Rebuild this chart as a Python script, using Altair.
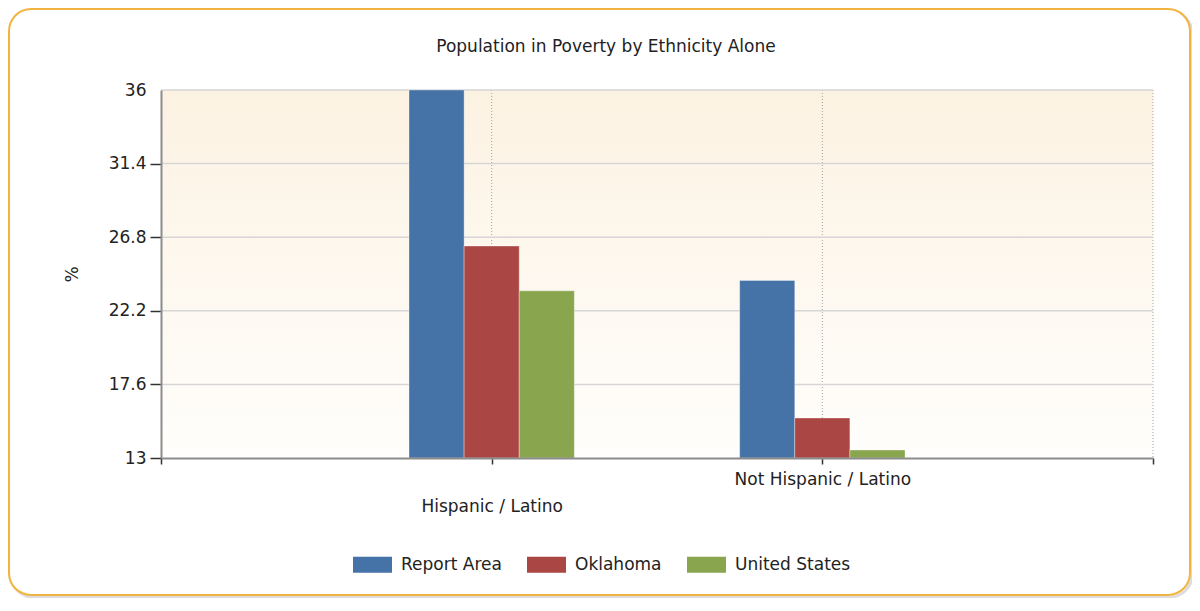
import altair as alt
import pandas as pd

# ---- data ----
categories = ["Hispanic / Latino", "Not Hispanic / Latino"]
series = ["Report Area", "Oklahoma", "United States"]
report_area = [36.0, 24.1]
oklahoma = [26.25, 15.5]
united_states = [23.45, 13.5]
colors = ["#4572a7", "#aa4643", "#89a54e"]
y_ticks = [13, 17.6, 22.2, 26.8, 31.4, 36]
x_grid = [1, 2, 3]

FONT = "DejaVu Sans"
W, H = 992, 368

rows = []
for si, (name, vals) in enumerate(zip(series, [report_area, oklahoma, united_states])):
    for ci, (cat, v) in enumerate(zip(categories, vals)):
        rows.append({"category": cat, "cat_index": ci + 1, "series": name,
                     "series_index": si, "value": v})
df = pd.DataFrame(rows)

xscale = alt.Scale(domain=[0, 3], nice=False, zero=False)
yscale = alt.Scale(domain=[13, 36], nice=False, zero=False)

label_expr = "datum.value == 1 ? '%s' : datum.value == 2 ? '%s' : ''" % (categories[0], categories[1])

x_axis = alt.Axis(
    values=[0, 1, 2, 3], labelExpr=label_expr, grid=False, title=None,
    tickSize=6, tickColor="#333333", tickWidth=1.5,
    domainColor="#8c8c8c", domainWidth=2,
    labelFont=FONT, labelFontSize=17, labelColor="#222222",
    labelPadding={"condition": {"test": "datum.value == 1", "value": 34}, "value": 7},
    labelOverlap=False, labelFlush=False, zindex=1,
)
y_axis = alt.Axis(
    values=y_ticks, format=".1~f", grid=False, title="%",
    tickSize=11, tickWidth=1.5,
    tickColor={"condition": {"test": "datum.value == 36", "value": "transparent"}, "value": "#333333"},
    domainColor="#8c8c8c", domainWidth=2,
    labelFont=FONT, labelFontSize=17, labelColor="#222222", labelPadding=4,
    titleFont=FONT, titleFontSize=17, titleFontWeight="normal", titleColor="#222222",
    titleX=-89, titleY=184, titleAlign="center", titleBaseline="middle",
    zindex=1,
)

one = pd.DataFrame({"k": [0]})

shadow = alt.Chart(one).mark_rect(
    fill="transparent", stroke="#cfcfcf", strokeWidth=3, strokeOpacity=0.7, cornerRadius=22
).encode(x=alt.value(-150), x2=alt.value(1031), y=alt.value(-79), y2=alt.value(507))

frame = alt.Chart(one).mark_rect(
    fill="white", stroke="#f2b440", strokeWidth=2, cornerRadius=22
).encode(x=alt.value(-152), x2=alt.value(1029), y=alt.value(-81), y2=alt.value(505))

bg = alt.Chart(one).mark_rect(
    fill=alt.Gradient(
        gradient="linear", x1=0, x2=0, y1=0, y2=1,
        stops=[alt.GradientStop(offset=0, color="#fcf2e2"),
               alt.GradientStop(offset=1, color="#fffefc")],
    )
).encode(x=alt.value(0), x2=alt.value(W), y=alt.value(0), y2=alt.value(H))

ygrid = alt.Chart(pd.DataFrame({"value": y_ticks[1:]})).mark_rule(
    color="#d6d6d6", strokeWidth=1.5
).encode(y=alt.Y("value:Q", scale=yscale, axis=y_axis))

xgrid = alt.Chart(pd.DataFrame({"x0": x_grid})).mark_rule(
    color="#a0a0a0", strokeWidth=1, strokeDash=[1, 2]
).encode(x=alt.X("x0:Q", scale=xscale, axis=x_axis))

bars = alt.Chart(df).transform_calculate(
    x0="datum.cat_index - 0.25 + datum.series_index / 6",
    x1="datum.cat_index - 0.25 + (datum.series_index + 1) / 6",
).mark_bar(clip=True, stroke="#ffffff", strokeWidth=0.8, strokeOpacity=0.45).encode(
    x=alt.X("x0:Q", scale=xscale, axis=x_axis),
    x2="x1:Q",
    y=alt.Y("value:Q", scale=yscale, axis=y_axis),
    y2=alt.datum(13),
    fill=alt.Fill(
        "series:N",
        scale=alt.Scale(domain=series, range=colors),
        sort=series,
        legend=alt.Legend(
            orient="none", legendX=192, legendY=455, direction="horizontal",
            title=None, padding=0,
            symbolType="M-1,-0.41H1V0.41H-1Z", symbolSize=1521, symbolStrokeWidth=0,
            symbolOpacity=1,
            labelFont=FONT, labelFontSize=17, labelColor="#222222",
            labelOffset=9, columnPadding=25,
        ),
    ),
)

chart = alt.layer(shadow, frame, bg, xgrid, ygrid, bars).properties(
    width=W, height=H,
    autosize=alt.AutoSizeParams(type="none"),
    padding={"left": 153, "top": 82, "right": 39, "bottom": 140},
    title=alt.TitleParams(
        "Population in Poverty by Ethnicity Alone",
        font=FONT, fontSize=17, fontWeight="normal", color="#222222",
        anchor="middle", dx=-51, offset=-61, baseline="alphabetic",
    ),
).configure_view(stroke=None).configure(background="white")

chart.save("out.html", embed_options={"renderer": "svg", "actions": False})
